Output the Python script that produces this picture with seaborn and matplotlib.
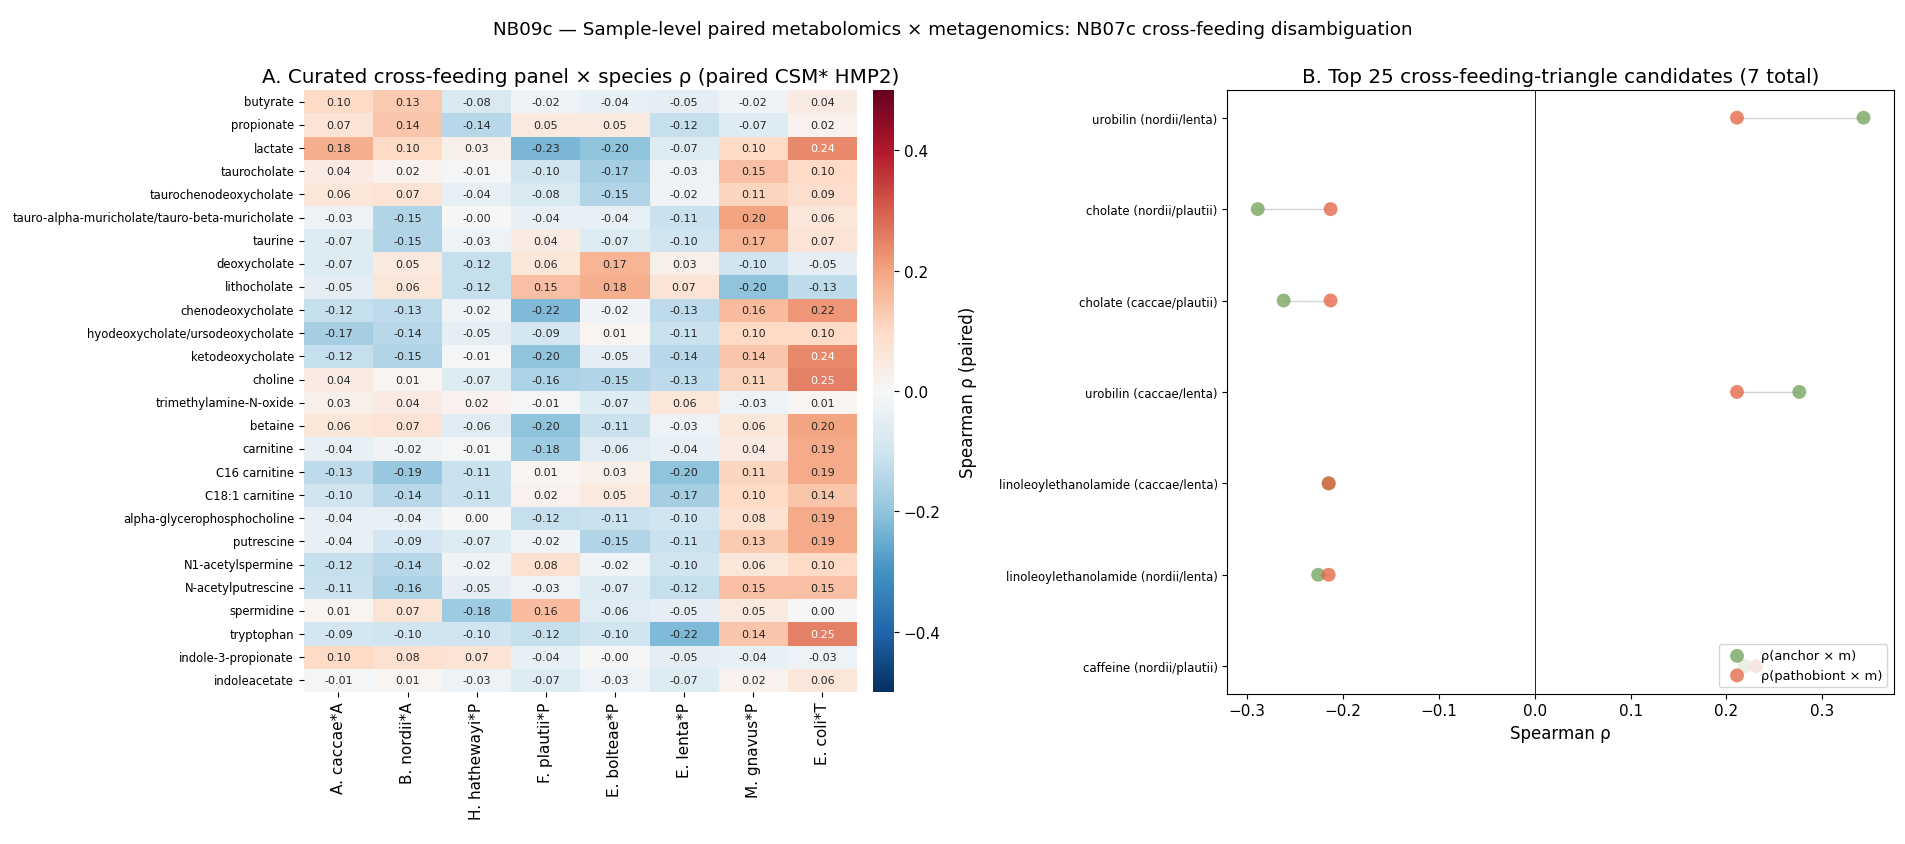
import numpy as np
import pandas as pd
import matplotlib
matplotlib.use("Agg")
import matplotlib.pyplot as plt
import seaborn as sns

#%% Dados - painel A (rho pareado metabolito x espécie)
metabolitos = [
    "butyrate", "propionate", "lactate", "taurocholate", "taurochenodeoxycholate",
    "tauro-alpha-muricholate/tauro-beta-muricholate", "taurine", "deoxycholate",
    "lithocholate", "chenodeoxycholate", "hyodeoxycholate/ursodeoxycholate",
    "ketodeoxycholate", "choline", "trimethylamine-N-oxide", "betaine", "carnitine",
    "C16 carnitine", "C18:1 carnitine", "alpha-glycerophosphocholine", "putrescine",
    "N1-acetylspermine", "N-acetylputrescine", "spermidine", "tryptophan",
    "indole-3-propionate", "indoleacetate",
]
especies = ["A. caccae*A", "B. nordii*A", "H. hathewayi*P", "F. plautii*P",
            "E. bolteae*P", "E. lenta*P", "M. gnavus*P", "E. coli*T"]

rho = [
    [0.10, 0.13, -0.08, -0.02, -0.04, -0.05, -0.02, 0.04],
    [0.07, 0.14, -0.14, 0.05, 0.05, -0.12, -0.07, 0.02],
    [0.18, 0.10, 0.03, -0.23, -0.20, -0.07, 0.10, 0.24],
    [0.04, 0.02, -0.01, -0.10, -0.17, -0.03, 0.15, 0.10],
    [0.06, 0.07, -0.04, -0.08, -0.15, -0.02, 0.11, 0.09],
    [-0.03, -0.15, -0.00, -0.04, -0.04, -0.11, 0.20, 0.06],
    [-0.07, -0.15, -0.03, 0.04, -0.07, -0.10, 0.17, 0.07],
    [-0.07, 0.05, -0.12, 0.06, 0.17, 0.03, -0.10, -0.05],
    [-0.05, 0.06, -0.12, 0.15, 0.18, 0.07, -0.20, -0.13],
    [-0.12, -0.13, -0.02, -0.22, -0.02, -0.13, 0.16, 0.22],
    [-0.17, -0.14, -0.05, -0.09, 0.01, -0.11, 0.10, 0.10],
    [-0.12, -0.15, -0.01, -0.20, -0.05, -0.14, 0.14, 0.24],
    [0.04, 0.01, -0.07, -0.16, -0.15, -0.13, 0.11, 0.25],
    [0.03, 0.04, 0.02, -0.01, -0.07, 0.06, -0.03, 0.01],
    [0.06, 0.07, -0.06, -0.20, -0.11, -0.03, 0.06, 0.20],
    [-0.04, -0.02, -0.01, -0.18, -0.06, -0.04, 0.04, 0.19],
    [-0.13, -0.19, -0.11, 0.01, 0.03, -0.20, 0.11, 0.19],
    [-0.10, -0.14, -0.11, 0.02, 0.05, -0.17, 0.10, 0.14],
    [-0.04, -0.04, 0.00, -0.12, -0.11, -0.10, 0.08, 0.19],
    [-0.04, -0.09, -0.07, -0.02, -0.15, -0.11, 0.13, 0.19],
    [-0.12, -0.14, -0.02, 0.08, -0.02, -0.10, 0.06, 0.10],
    [-0.11, -0.16, -0.05, -0.03, -0.07, -0.12, 0.15, 0.15],
    [0.01, 0.07, -0.18, 0.16, -0.06, -0.05, 0.05, 0.00],
    [-0.09, -0.10, -0.10, -0.12, -0.10, -0.22, 0.14, 0.25],
    [0.10, 0.08, 0.07, -0.04, -0.00, -0.05, -0.04, -0.03],
    [-0.01, 0.01, -0.03, -0.07, -0.03, -0.07, 0.02, 0.06],
]

#%% Dados - painel B (candidatos a triângulo de cross-feeding)
candidatos = ["urobilin (nordii/lenta)", "cholate (nordii/plautii)",
              "cholate (caccae/plautii)", "urobilin (caccae/lenta)",
              "linoleoylethanolamide (caccae/lenta)",
              "linoleoylethanolamide (nordii/lenta)", "caffeine (nordii/plautii)"]
rho_anchor = [0.343, -0.289, -0.262, 0.276, -0.215, -0.226, 0.219]
rho_patho = [0.211, -0.213, -0.213, 0.211, -0.215, -0.215, 0.231]

df_rho = pd.DataFrame(rho, index=metabolitos, columns=especies)
df_b = pd.DataFrame({"candidato": candidatos, "anchor": rho_anchor,
                     "patho": rho_patho})
df_b["pos"] = np.arange(len(df_b))

# Tamanhos de fonte
plt.rcParams["xtick.labelsize"] = 11
plt.rcParams["ytick.labelsize"] = 11
plt.rcParams["axes.labelsize"] = 12

#%% Figura
fig = plt.figure(figsize=(19.06, 8.45), dpi=100)
ax_a = fig.add_axes([0.1594, 0.180, 0.2902, 0.712])
cax = fig.add_axes([0.458, 0.180, 0.011, 0.712])
ax_b = fig.add_axes([0.644, 0.178, 0.3496, 0.714])

sns.heatmap(df_rho, ax=ax_a, cbar_ax=cax, cmap="RdBu_r", vmin=-0.5, vmax=0.5,
            center=0, annot=True, fmt=".2f", annot_kws={"fontsize": 8},
            cbar_kws={"label": "Spearman ρ (paired)"})
ax_a.set_title("A. Curated cross-feeding panel × species ρ (paired CSM* HMP2)",
               fontsize=14.3)
ax_a.set_xlabel("")
ax_a.set_ylabel("")
ax_a.tick_params(axis="y", labelsize=8.4)
ax_a.tick_params(axis="x", labelsize=11, rotation=90)
ax_a.set_yticklabels(metabolitos, rotation=0)
cax.tick_params(labelsize=11)
cax.set_ylabel("Spearman ρ (paired)", fontsize=12, labelpad=13)

# Painel B - dumbbell
ax_b.hlines(df_b["pos"], df_b["anchor"], df_b["patho"], color="lightgrey",
            lw=1, zorder=1)
sns.scatterplot(data=df_b, x="anchor", y="pos", ax=ax_b, color="#6f9f55",
                alpha=0.75, s=100, edgecolor="none", label="ρ(anchor × m)",
                zorder=2)
sns.scatterplot(data=df_b, x="patho", y="pos", ax=ax_b, color="#e4603f",
                alpha=0.75, s=100, edgecolor="none", label="ρ(pathobiont × m)",
                zorder=3)
ax_b.axvline(0, color="black", lw=0.6)
ax_b.set_yticks(df_b["pos"])
ax_b.set_yticklabels(candidatos, fontsize=8.5)
ax_b.invert_yaxis()
ax_b.set_ylabel("")
ax_b.set_xlabel("Spearman ρ")
ax_b.set_title("B. Top 25 cross-feeding-triangle candidates (7 total)",
               fontsize=14.3)
ax_b.legend(loc="lower right", fontsize=9.4)

fig.suptitle("NB09c — Sample-level paired metabolomics × metagenomics: "
             "NB07c cross-feeding disambiguation", fontsize=13.2, y=0.975)

plt.savefig("out.png", dpi=100)
